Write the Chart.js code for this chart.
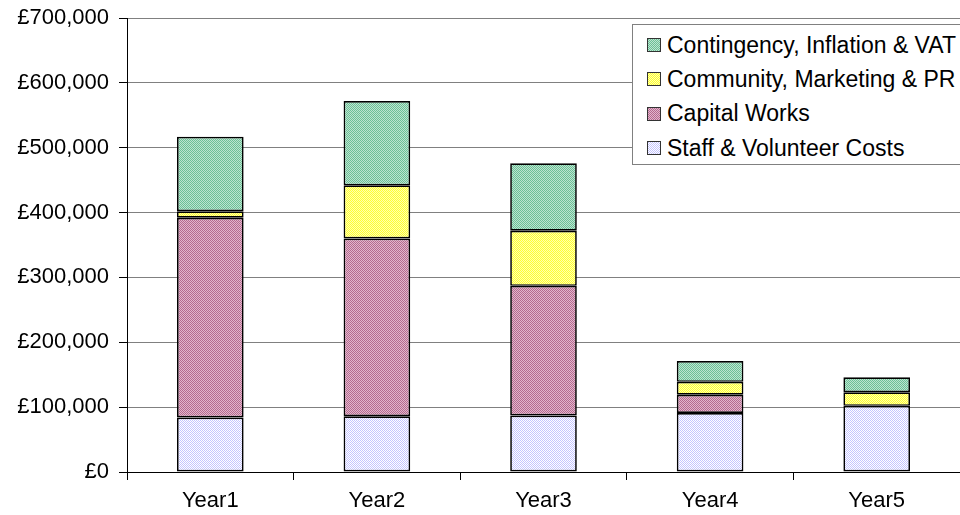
<!DOCTYPE html>
<html>
<head>
<meta charset="utf-8">
<script src="https://cdn.jsdelivr.net/npm/chart.js@4.4.0/dist/chart.umd.min.js"></script>
<style>
  body { margin: 0; background: #fff; }
  #wrap { position: relative; width: 960px; height: 515px; overflow: hidden; }
  #legend {
    position: absolute; left: 632px; top: 24px; width: 340px; height: 141px;
    border: 1px solid #808080; background: #fff; padding-top: 3px; box-sizing: border-box;
    font-family: "Liberation Sans", Arial, sans-serif; font-size: 23px; color: #000;
  }
  .row { height: 34.3px; display: flex; align-items: center; }
  .sw { width: 14px; height: 14px; margin-left: 14px; margin-right: 6px; border: 1px solid #333; box-sizing: border-box; }
</style>
</head>
<body>
<div id="wrap">
  <canvas id="myChart" width="960" height="515"></canvas>
  <div id="legend"></div>
</div>
<script>
const categories = ['Year1', 'Year2', 'Year3', 'Year4', 'Year5'];
const staffCosts = [84000, 86000, 87000, 91000, 102000];
const capitalWorks = [308000, 274000, 200000, 28000, 0];
const communityPR = [10000, 82000, 85000, 20000, 21000];
const contingency = [115000, 130000, 104000, 32000, 23000];
const seriesNames = ['Staff & Volunteer Costs', 'Capital Works', 'Community, Marketing & PR', 'Contingency, Inflation & VAT'];

// small checker tiles to mimic the old spreadsheet fill patterns
function makeTile(c1, c2) {
  const t = document.createElement('canvas');
  t.width = 4; t.height = 4;
  const g = t.getContext('2d');
  g.fillStyle = c1;
  g.fillRect(0, 0, 4, 4);
  g.fillStyle = c2;
  for (let y = 0; y < 4; y++) {
    for (let x = 0; x < 4; x++) {
      if ((x + y) % 2) g.fillRect(x, y, 1, 1);
    }
  }
  return t;
}

const ctx = document.getElementById('myChart');
const c2d = ctx.getContext('2d');
const tiles = [
  makeTile('#c4c4ff', '#ffffff'),
  makeTile('#b46b8f', '#e2b6cc'),
  makeTile('#ffff30', '#ffffb0'),
  makeTile('#6cbf96', '#bce4d0')
];
const fills = tiles.map(t => c2d.createPattern(t, 'repeat'));
const seriesData = [staffCosts, capitalWorks, communityPR, contingency];

const fontFamily = '"Liberation Sans", Arial, sans-serif';

// legend, top entry is the top of the stack
const legendEl = document.getElementById('legend');
for (let i = seriesNames.length - 1; i >= 0; i--) {
  legendEl.innerHTML += `<div class="row"><div class="sw" style="background-image:url(${tiles[i].toDataURL()})"></div>${seriesNames[i]}</div>`;
}

new Chart(ctx, {
  type: 'bar',
  data: {
    labels: categories,
    datasets: seriesNames.map((name, i) => ({
      label: name,
      data: seriesData[i],
      backgroundColor: fills[i],
      borderColor: '#000',
      borderWidth: 1.7,
      borderSkipped: false,
      barPercentage: 0.4,
      categoryPercentage: 1
    }))
  },
  options: {
    responsive: false,
    animation: false,
    layout: { autoPadding: false, padding: { top: 18, right: 0, bottom: 0, left: 0 } },
    plugins: { legend: { display: false }, tooltip: { enabled: false } },
    scales: {
      x: {
        stacked: true,
        grid: { drawOnChartArea: false, drawTicks: true, tickLength: 8, color: '#000', offset: true },
        border: { color: '#000', width: 1 },
        ticks: { color: '#000', padding: 8, font: { family: fontFamily, size: 22 } },
        afterFit: scale => { scale.height = 43; }
      },
      y: {
        stacked: true,
        min: 0,
        max: 700000,
        grid: { color: '#808080', tickColor: '#000', tickLength: 8 },
        border: { color: '#000', width: 1 },
        ticks: {
          stepSize: 100000,
          color: '#000',
          padding: 10,
          // small lineHeight keeps the scale from adding extra top padding
          font: { family: fontFamily, size: 22, lineHeight: 0.5 },
          callback: v => '£' + v.toLocaleString('en-GB')
        },
        afterFit: scale => { scale.width = 127; }
      }
    }
  }
});
</script>
</body>
</html>
